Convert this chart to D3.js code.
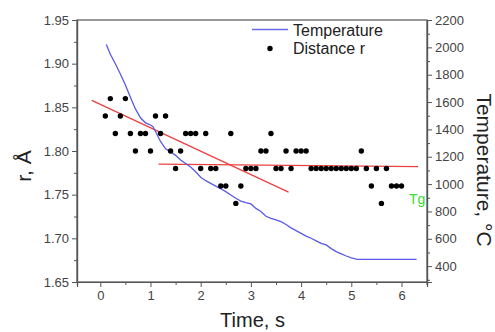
<!DOCTYPE html>
<html><head><meta charset="utf-8">
<script src="https://cdn.jsdelivr.net/npm/d3@7"></script>
<style>body{margin:0;background:#fff;} svg{display:block;font-family:"Liberation Sans",Arial,sans-serif;}</style>
</head><body>
<svg id="c" width="495" height="332"></svg>
<script>
// ---- data ----
const distTime = [0.1,0.2,0.3,0.4,0.5,0.6,0.7,0.8,0.9,1.0,
  1.1,1.2,1.3,1.4,1.5,1.6,1.7,1.8,1.9,2.0,
  2.1,2.2,2.3,2.4,2.5,2.6,2.7,2.8,2.9,3.0,
  3.1,3.2,3.3,3.4,3.5,3.6,3.7,3.8,3.9,4.0,
  4.1,4.2,4.3,4.4,4.5,4.6,4.7,4.8,4.9,5.0,
  5.1,5.2,5.3,5.4,5.5,5.6,5.7,5.8,5.9,6.0];
const distR = [1.84,1.86,1.82,1.84,1.86,1.82,1.80,1.82,1.82,1.80,
  1.84,1.82,1.84,1.80,1.78,1.80,1.82,1.82,1.82,1.78,
  1.82,1.78,1.78,1.76,1.76,1.82,1.74,1.76,1.78,1.78,
  1.78,1.80,1.80,1.82,1.78,1.78,1.80,1.78,1.80,1.80,
  1.80,1.78,1.78,1.78,1.78,1.78,1.78,1.78,1.78,1.78,
  1.78,1.80,1.78,1.76,1.78,1.74,1.78,1.76,1.76,1.76];
const tempTime = [0.12,0.2,0.3,0.4,0.5,0.6,0.7,0.8,0.9,1.0,1.05,1.1,1.2,1.3,1.4,1.5,1.6,1.7,1.8,1.9,
  2.0,2.1,2.2,2.3,2.4,2.5,2.6,2.7,2.8,2.9,3.0,3.1,3.2,3.3,3.4,3.5,3.6,3.7,3.8,3.9,
  4.0,4.1,4.2,4.3,4.4,4.5,4.6,4.7,4.8,4.9,5.0,5.12,5.5,6.0,6.3];
const tempValue = [2020,1950,1880,1805,1725,1635,1550,1485,1448,1432,1420,1385,1312,1258,1236,1210,1176,1150,1125,1090,
  1050,1025,1005,985,966,945,920,896,876,864,855,822,800,765,750,738,725,705,680,660,
  640,620,604,585,567,555,528,506,490,474,460,450,450,450,450];
const fitDecTime = [-0.17, 3.75];
const fitDecR = [1.858, 1.753];
const fitFlatTime = [1.16, 6.33];
const fitFlatR = [1.785, 1.782];
const xTicks = [0,1,2,3,4,5,6];
const rTicks = [1.65,1.70,1.75,1.80,1.85,1.90,1.95];
const tTicks = [400,600,800,1000,1200,1400,1600,1800,2000,2200];
const legendLabels = ["Temperature","Distance r"];

// ---- layout ----
const L = 77, R = 427, T = 20, B = 282;
const svg = d3.select("#c");
const x = d3.scaleLinear().domain([-0.464, 6.508]).range([L, R]);
const yr = d3.scaleLinear().domain([1.65, 1.95]).range([B, T]);
const yt = d3.scaleLinear().domain([284, 2200]).range([B, T]);

const axisCol = "#555", labCol = "#444";
// frame
svg.append("rect").attr("x", L).attr("y", T).attr("width", R - L).attr("height", B - T)
  .attr("fill", "none").attr("stroke", axisCol).attr("stroke-width", 1.2);

// bottom axis
const gx = svg.append("g").attr("transform", `translate(0,${B})`)
  .call(d3.axisBottom(x).tickValues(xTicks).tickSize(5).tickPadding(4).tickFormat(d3.format("d")));
svg.append("g").attr("transform", `translate(0,${B})`)
  .call(d3.axisBottom(x).tickValues(d3.range(-0.5, 6.6, 1).filter(v => v > -0.46)).tickSize(3).tickFormat(""));
// left axis
svg.append("g").attr("transform", `translate(${L},0)`)
  .call(d3.axisLeft(yr).tickValues(rTicks).tickSize(5).tickPadding(3).tickFormat(d3.format(".2f")));
svg.append("g").attr("transform", `translate(${L},0)`)
  .call(d3.axisLeft(yr).tickValues(d3.range(1.675, 1.95, 0.05)).tickSize(3).tickFormat(""));
// right axis
svg.append("g").attr("transform", `translate(${R},0)`)
  .call(d3.axisRight(yt).tickValues(tTicks).tickSize(5).tickPadding(3).tickFormat(d3.format("d")));
svg.append("g").attr("transform", `translate(${R},0)`)
  .call(d3.axisRight(yt).tickValues([300,500,700,900,1100,1300,1500,1700,1900,2100]).tickSize(3).tickFormat(""));

svg.selectAll(".domain").attr("stroke", axisCol).attr("stroke-width", 1.2);
svg.selectAll(".tick line").attr("stroke", axisCol);
svg.selectAll(".tick text").attr("fill", labCol).attr("font-size", 13)
  .attr("font-family", '"Liberation Sans",Arial,sans-serif');

// fit lines
const lineR = d3.line().x(d => x(d[0])).y(d => yr(d[1]));
svg.append("path").attr("d", lineR(d3.zip(fitDecTime, fitDecR)))
  .attr("stroke", "#ee4040").attr("stroke-width", 1.3).attr("fill", "none");
svg.append("path").attr("d", lineR(d3.zip(fitFlatTime, fitFlatR)))
  .attr("stroke", "#ee4040").attr("stroke-width", 1.3).attr("fill", "none");

// temperature line
const lineT = d3.line().x(d => x(d[0])).y(d => yt(d[1]));
svg.append("path").attr("d", lineT(d3.zip(tempTime, tempValue)))
  .attr("stroke", "#5a5ae6").attr("stroke-width", 1.3).attr("fill", "none");

// distance points
svg.append("g").selectAll("circle").data(d3.zip(distTime, distR)).join("circle")
  .attr("cx", d => x(d[0])).attr("cy", d => yr(d[1])).attr("r", 2.7).attr("fill", "#000");

// Tg label
svg.append("text").attr("x", 409).attr("y", 204).attr("fill", "#33dd33")
  .attr("font-size", 14).text("Tg");

// legend
svg.append("line").attr("x1", 252).attr("x2", 288).attr("y1", 29.5).attr("y2", 29.5)
  .attr("stroke", "#6a6aee").attr("stroke-width", 1.3);
svg.append("text").attr("x", 293).attr("y", 35.5).attr("font-size", 16).attr("fill", "#222").text(legendLabels[0]);
svg.append("circle").attr("cx", 270).attr("cy", 48.5).attr("r", 2.7).attr("fill", "#000");
svg.append("text").attr("x", 293).attr("y", 54).attr("font-size", 16).attr("fill", "#222").text(legendLabels[1]);

// axis titles
svg.append("text").attr("x", (L + R) / 2 + 0.5).attr("y", 327).attr("text-anchor", "middle")
  .attr("font-size", 20).attr("fill", "#222").text("Time, s");
svg.append("text").attr("transform", "translate(31,166) rotate(-90)").attr("text-anchor", "middle")
  .attr("font-size", 21).attr("fill", "#222").text("r, Å");
svg.append("text").attr("transform", "translate(477,170) rotate(90)").attr("text-anchor", "middle")
  .attr("font-size", 21).attr("fill", "#222").text("Temperature, °C");
</script>
</body></html>
